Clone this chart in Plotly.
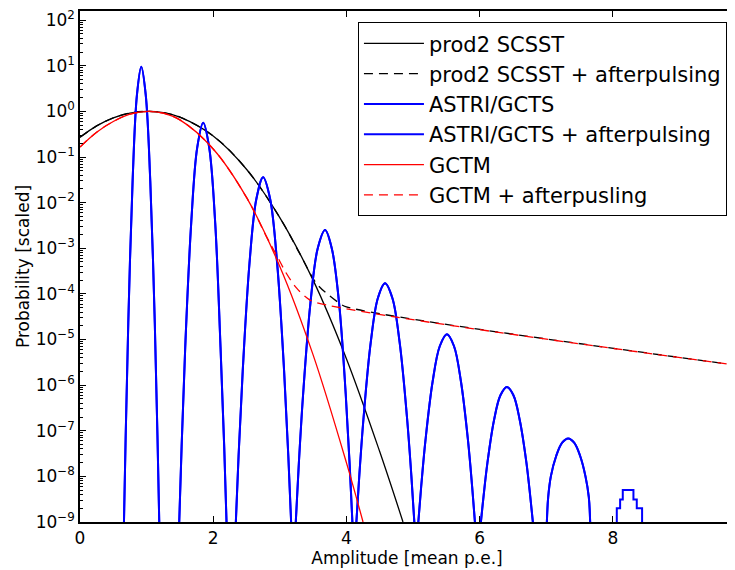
import plotly.graph_objects as go

# amplitude (mean p.e.) and scaled probability
prod2_x = [0, 0.25, 0.5, 0.75, 1.0, 1.25, 1.5, 2.0, 2.5, 3.0, 3.5, 4.0, 4.5, 4.85]
prod2_y = [0.27, 0.48, 0.72, 0.92, 1.0, 0.94, 0.75, 0.29, 0.054, 4.7e-3, 2.0e-4, 3.8e-6, 3.5e-8, 1e-9]

prod2_ap_x = [0, 0.25, 0.5, 0.75, 1.0, 1.25, 1.5, 2.0, 2.5, 3.0, 3.3, 3.55, 3.75, 3.9, 4.0, 9.85]
prod2_ap_y = [0.27, 0.48, 0.72, 0.92, 1.0, 0.94, 0.75, 0.29, 0.054, 4.7e-3, 7.6e-4, 1.7e-4,
              9.0e-5, 6.2e-5, 5.2e-5, 2.75e-6]

gctm_x = [0, 0.25, 0.5, 0.75, 1.03, 1.25, 1.5, 2.0, 2.5, 3.0, 3.5, 4.0, 4.25]
gctm_y = [0.165, 0.35, 0.60, 0.87, 1.0, 0.91, 0.65, 0.15, 1.3e-2, 4.0e-4, 4.6e-6, 2.0e-8, 1e-9]

gctm_ap_x = [0, 0.25, 0.5, 0.75, 1.03, 1.25, 1.5, 2.0, 2.5, 2.8, 2.95, 3.1, 3.25, 3.4, 3.5, 9.85]
gctm_ap_y = [0.165, 0.35, 0.60, 0.87, 1.0, 0.91, 0.65, 0.15, 1.3e-2, 1.8e-3, 7.1e-4, 2.8e-4,
             1.35e-4, 8.3e-5, 6.8e-5, 2.75e-6]

astri_x = [0.66, 0.686, 0.725, 0.79, 0.855, 0.92, 0.987, 1.055, 1.123, 1.163, 1.19, None,
           1.49, 1.526, 1.58, 1.67, 1.76, 1.85, 1.94, 2.03, 2.11, 2.165, 2.20, None,
           2.34, 2.381, 2.443, 2.545, 2.648, 2.75, 2.855, 2.96, 3.065, 3.128, 3.17, None,
           3.24, 3.284, 3.35, 3.46, 3.57, 3.68, 3.78, 3.89, 3.99, 4.05, 4.09, None,
           4.15, 4.193, 4.258, 4.365, 4.473, 4.58, 4.69, 4.80, 4.91, 4.976, 5.02, None,
           5.08, 5.123, 5.188, 5.295, 5.403, 5.51, 5.615, 5.72, 5.825, 5.888, 5.93, None,
           6.02, 6.059, 6.118, 6.215, 6.313, 6.41, 6.508, 6.605, 6.703, 6.761, 6.80, None,
           7.01, 7.03, 7.07, 7.15, 7.24, 7.33, 7.42, 7.51, 7.59, 7.64, 7.66]
astri_y = [1e-9, 7.9e-8, 2.3e-5, 3.0e-2, 2.3, 9.5, 2.3, 3.0e-2, 2.3e-5, 7.9e-8, 1e-9, None,
           1e-9, 4.6e-8, 6.8e-6, 3.6e-3, 0.16, 0.56, 0.16, 3.6e-3, 6.8e-6, 4.6e-8, 1e-9, None,
           1e-9, 2.8e-8, 2.0e-6, 4.7e-4, 1.2e-2, 3.6e-2, 1.2e-2, 4.7e-4, 2.0e-6, 2.8e-8, 1e-9, None,
           1e-9, 1.7e-8, 6.3e-7, 6.3e-5, 1.0e-3, 2.5e-3, 1.0e-3, 6.3e-5, 6.3e-7, 1.7e-8, 1e-9, None,
           1e-9, 1.0e-8, 1.95e-7, 8.5e-6, 8.1e-5, 1.7e-4, 8.1e-5, 8.5e-6, 1.95e-7, 1.0e-8, 1e-9, None,
           1e-9, 6.0e-9, 6.3e-8, 1.2e-6, 7.2e-6, 1.3e-5, 7.2e-6, 1.2e-6, 6.3e-8, 6.0e-9, 1e-9, None,
           1e-9, 3.6e-9, 2.0e-8, 1.66e-7, 6.0e-7, 9.1e-7, 6.0e-7, 1.66e-7, 2.0e-8, 3.6e-9, 1e-9, None,
           1e-9, 3.5e-9, 1.0e-8, 2.8e-8, 5.5e-8, 6.8e-8, 5.5e-8, 2.8e-8, 1.0e-8, 3.5e-9, 1e-9]

# last, coarsely binned peak
astri_tail_x = [8.06, 8.06, 8.11, 8.11, 8.15, 8.15, 8.31, 8.31, 8.36, 8.36, 8.44, 8.44]
astri_tail_y = [1e-9, 2.0e-9, 2.0e-9, 3.1e-9, 3.1e-9, 5.0e-9, 5.0e-9, 3.1e-9, 3.1e-9, 2.0e-9,
                2.0e-9, 1e-9]

y_tickvals = [1e-9, 1e-8, 1e-7, 1e-6, 1e-5, 1e-4, 1e-3, 1e-2, 1e-1, 1, 10, 100]
y_ticktext = ["10<sup>−9</sup>", "10<sup>−8</sup>", "10<sup>−7</sup>", "10<sup>−6</sup>",
              "10<sup>−5</sup>", "10<sup>−4</sup>", "10<sup>−3</sup>", "10<sup>−2</sup>",
              "10<sup>−1</sup>", "10<sup>0</sup>", "10<sup>1</sup>", "10<sup>2</sup>"]
x_tickvals = [0, 2, 4, 6, 8]
# minor ticks 2..9 inside each decade
y_minor = [m * d for d in y_tickvals[:-1] for m in range(2, 10)]

fig = go.Figure()

fig.add_trace(go.Scatter(x=prod2_x, y=prod2_y, mode="lines", name="prod2 SCSST",
                         line=dict(color="black", width=1.3, shape="spline")))
fig.add_trace(go.Scatter(x=prod2_ap_x, y=prod2_ap_y, mode="lines",
                         name="prod2 SCSST + afterpulsing",
                         line=dict(color="black", width=1.3, dash="9px,6px", shape="spline")))
fig.add_trace(go.Scatter(x=astri_x, y=astri_y, mode="lines", name="ASTRI/GCTS",
                         line=dict(color="#0000ff", width=2, shape="spline")))
fig.add_trace(go.Scatter(x=astri_tail_x, y=astri_tail_y, mode="lines", showlegend=False,
                         line=dict(color="#0000ff", width=2)))
fig.add_trace(go.Scatter(x=astri_x, y=astri_y, mode="lines", name="ASTRI/GCTS + afterpulsing",
                         line=dict(color="#0000ff", width=2, shape="spline")))
fig.add_trace(go.Scatter(x=gctm_x, y=gctm_y, mode="lines", name="GCTM",
                         line=dict(color="#ff0000", width=1.3, shape="spline")))
fig.add_trace(go.Scatter(x=gctm_ap_x, y=gctm_ap_y, mode="lines", name="GCTM + afterpusling",
                         line=dict(color="#ff0000", width=1.3, dash="9px,6px", shape="spline")))

axis_common = dict(showline=True, linecolor="black", linewidth=1.5, mirror="ticks",
                   ticks="inside", ticklen=6, tickcolor="black", showgrid=False,
                   zeroline=False, automargin=False, ticklabeloverflow="allow",
                   tickfont=dict(size=17, color="black"))

# the page adds an 8px body margin, so the figure is sized 8px short
fig.update_layout(
    width=727, height=562,
    margin=dict(l=72, r=1, t=3, b=48),
    paper_bgcolor="white", plot_bgcolor="white",
    font=dict(family="DejaVu Sans", color="black"),
    xaxis=dict(range=[0, 9.82], tickmode="array", tickvals=x_tickvals,
               title=dict(text="Amplitude [mean p.e.]", font=dict(size=17), standoff=0),
               **axis_common),
    yaxis=dict(type="log", range=[-9, 2.2], tickmode="array", tickvals=y_tickvals,
               ticktext=y_ticktext,
               minor=dict(ticks="inside", ticklen=3, tickmode="array", tickvals=y_minor,
                          tickcolor="black"),
               title=dict(text="Probability [scaled]", font=dict(size=17), standoff=2),
               **axis_common),
    legend=dict(x=0.425, y=0.978, xanchor="left", yanchor="top", bgcolor="white",
                bordercolor="black", borderwidth=1, font=dict(size=21),
                itemwidth=60, tracegroupgap=0),
    showlegend=True,
)

fig.write_html("out.html")
